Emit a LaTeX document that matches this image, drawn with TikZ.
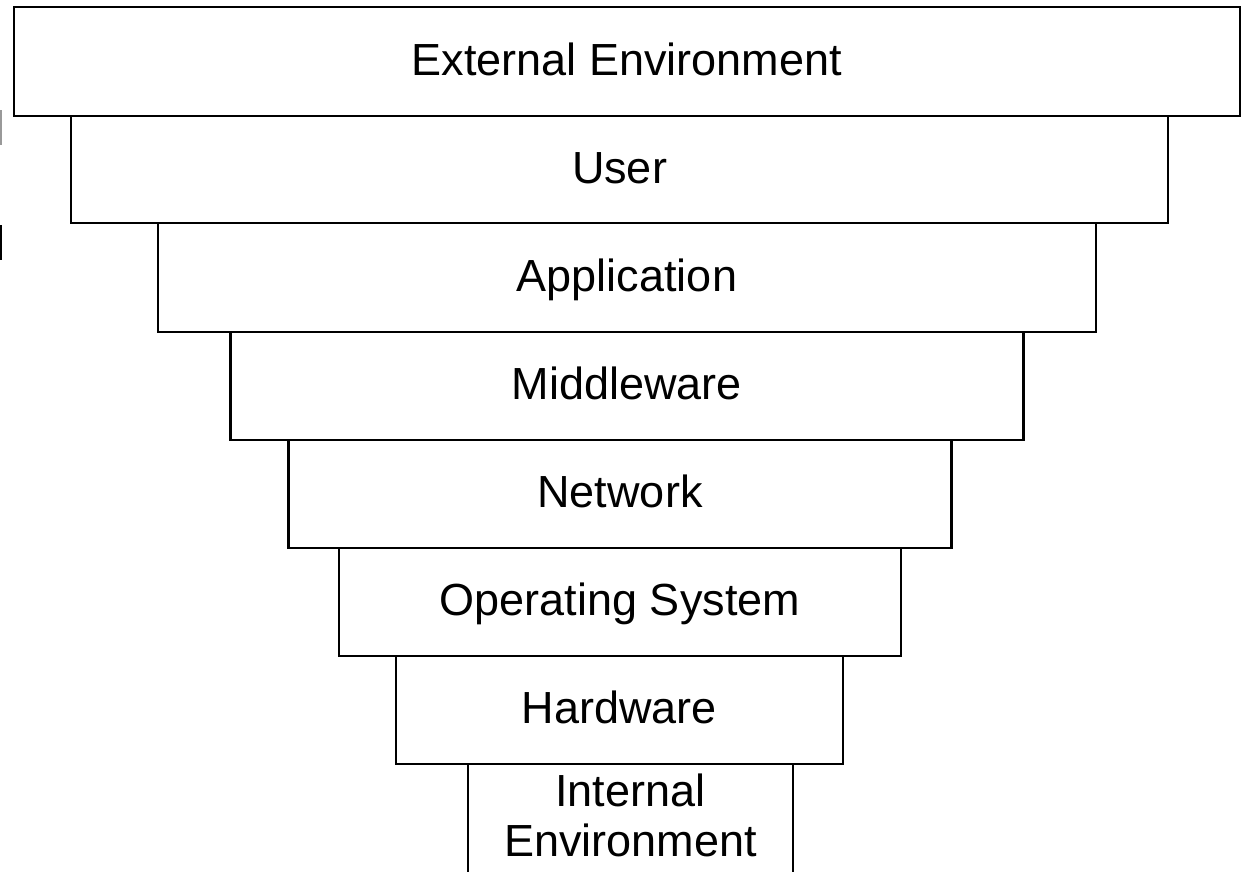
\documentclass[tikz,border=0pt]{standalone}
\usepackage{fontspec}
\setmainfont{Liberation Sans}
\begin{document}
\begin{tikzpicture}[x=1pt,y=-1pt,
  layer/.style={draw=black, line width=2.4pt, fill=white, inner sep=0pt,
    font=\fontsize{45}{50}\selectfont, text height=27.2pt, text depth=0pt},
  label/.style={inner sep=0pt, font=\fontsize{45}{50}\selectfont, align=center},
  edge/.style={draw=black, line width=2.4pt}]
\path[use as bounding box] (0,0) rectangle (1243,871);
% stray marks at left border
\draw[line width=2.2pt, black!40] (1,110) -- (1,145);
\draw[line width=2.6pt, black] (1,225) -- (1,260);
% layers
\node[layer, minimum width=1226pt, minimum height=109pt] (ext) at (627,61.5) {External Environment};
\node[layer, minimum width=1097pt, minimum height=107pt] (user) at (619.5,169.5) {User};
\node[layer, minimum width=938pt, minimum height=109pt] (app) at (627,277.5) {Application};
\node[layer, minimum width=793pt, minimum height=108pt] (mid) at (627,386) {Middleware};
\node[layer, minimum width=663pt, minimum height=108pt] (net) at (620,494) {Network};
\node[layer, minimum width=562pt, minimum height=108pt] (os) at (620,602) {Operating System};
\node[layer, minimum width=447pt, minimum height=108pt] (hw) at (619.5,710) {Hardware};
% internal environment (open at bottom)
\coordinate (il) at (468,764);
\coordinate (ir) at (793,764);
\coordinate (ilb) at (468,875);
\coordinate (irb) at (793,875);
\draw[edge] (ilb) -- (il);
\draw[edge] (irb) -- (ir);
\node[label] (int) at (630.5,815) {Internal\\Environment};
\end{tikzpicture}
\end{document}
